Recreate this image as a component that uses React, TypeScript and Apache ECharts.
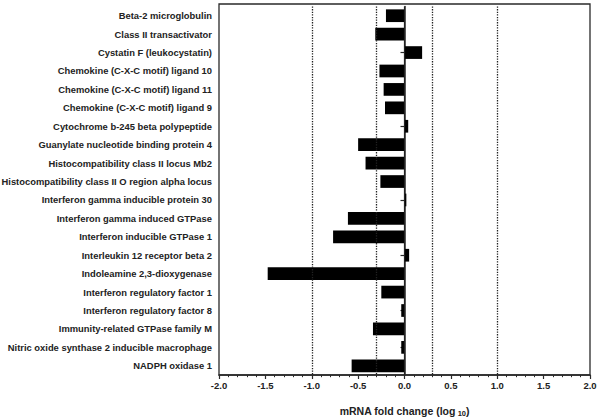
import React, { useEffect, useRef } from "react";
import * as echarts from "echarts";

const categories = [
  "Beta-2 microglobulin",
  "Class II transactivator",
  "Cystatin F (leukocystatin)",
  "Chemokine (C-X-C motif) ligand 10",
  "Chemokine (C-X-C motif) ligand 11",
  "Chemokine (C-X-C motif) ligand 9",
  "Cytochrome b-245 beta polypeptide",
  "Guanylate nucleotide binding protein 4",
  "Histocompatibility class II locus Mb2",
  "Histocompatibility class II O region alpha locus",
  "Interferon gamma inducible protein 30",
  "Interferon gamma induced GTPase",
  "Interferon inducible GTPase 1",
  "Interleukin 12 receptor beta 2",
  "Indoleamine 2,3-dioxygenase",
  "Interferon regulatory factor 1",
  "Interferon regulatory factor 8",
  "Immunity-related GTPase family M",
  "Nitric oxide synthase 2 inducible macrophage",
  "NADPH oxidase 1",
];

const foldChange = [
  -0.2, -0.315, 0.19, -0.27, -0.225, -0.21, 0.04, -0.5, -0.42, -0.26, 0.02,
  -0.61, -0.77, 0.05, -1.475, -0.25, -0.035, -0.34, -0.035, -0.57,
];

const dottedLines = [-1, -0.3, 0.3, 1];
const zeroLine = [0];

const xMin = -2;
const xMax = 2;
const xInterval = 0.5;

const FONT = "'Liberation Sans', Arial, sans-serif";

export default function App() {
  const ref = useRef<HTMLDivElement>(null);

  useEffect(() => {
    document.body.style.margin = "0";
    if (!ref.current) return;
    const chart = echarts.init(ref.current, undefined, { renderer: "svg" });
    const axisColor = "#2a2a2a";
    chart.setOption({
      animation: false,
      backgroundColor: "#ffffff",
      grid: [
        {
          left: 219,
          right: 10,
          top: 4,
          bottom: 44,
          show: true,
          borderColor: axisColor,
          borderWidth: 1.3,
          backgroundColor: "transparent",
          outerBoundsMode: "none",
        },
        { left: 219, right: 10, top: 6.5, bottom: 44, outerBoundsMode: "none" },
      ],
      xAxis: [
        { gridIndex: 0, type: "value", min: xMin, max: xMax, show: false },
        {
          gridIndex: 1,
          type: "value",
          min: xMin,
          max: xMax,
          interval: xInterval,
          axisLine: { show: true, lineStyle: { color: axisColor, width: 1.5 } },
          axisTick: { show: true, length: 4, lineStyle: { color: axisColor, width: 1.2 } },
          minorTick: { show: true, splitNumber: 5, length: 2.2, lineStyle: { color: axisColor, width: 1 } },
          splitLine: { show: false },
          axisLabel: {
            formatter: (v: number) => v.toFixed(1),
            fontFamily: FONT,
            fontWeight: "bold",
            fontSize: 9.5,
            color: "#222",
            margin: 5,
          },
          name: "{a|mRNA fold change (log}{s| 10}{a|)}",
          nameLocation: "middle",
          nameGap: 30,
          nameTextStyle: {
            rich: {
              a: { fontFamily: FONT, fontWeight: "bold", fontSize: 10.5, color: "#222" },
              s: {
                fontFamily: FONT,
                fontWeight: "bold",
                fontSize: 7.5,
                color: "#222",
                verticalAlign: "bottom",
                padding: [4, 0, 0, 0],
              },
            },
          },
        },
      ],
      yAxis: [
        { gridIndex: 0, type: "value", show: false },
        {
          gridIndex: 1,
          type: "category",
          data: categories,
          inverse: true,
          axisLine: { show: true, lineStyle: { color: axisColor, width: 1.5 } },
          axisTick: { show: true, alignWithLabel: true, length: 4, lineStyle: { color: axisColor, width: 1.2 } },
          axisLabel: {
            fontFamily: FONT,
            fontWeight: "bold",
            fontSize: 9.4,
            color: "#222",
            margin: 7,
            interval: 0,
          },
        },
      ],
      series: [
        {
          type: "bar",
          xAxisIndex: 1,
          yAxisIndex: 1,
          data: foldChange,
          barWidth: "69%",
          itemStyle: { color: "#000" },
          markLine: {
            silent: true,
            symbol: "none",
            label: { show: false },
            data: [
              ...dottedLines.map((v) => ({
                xAxis: v,
                lineStyle: { type: "dotted", color: "#222", width: 1.3 },
              })),
              ...zeroLine.map((v) => ({
                xAxis: v,
                lineStyle: { type: "solid", color: "#222", width: 1.2 },
              })),
            ],
          },
          z: 3,
        },
      ],
    });
    return () => chart.dispose();
  }, []);

  return <div ref={ref} style={{ width: 600, height: 419 }} />;
}
